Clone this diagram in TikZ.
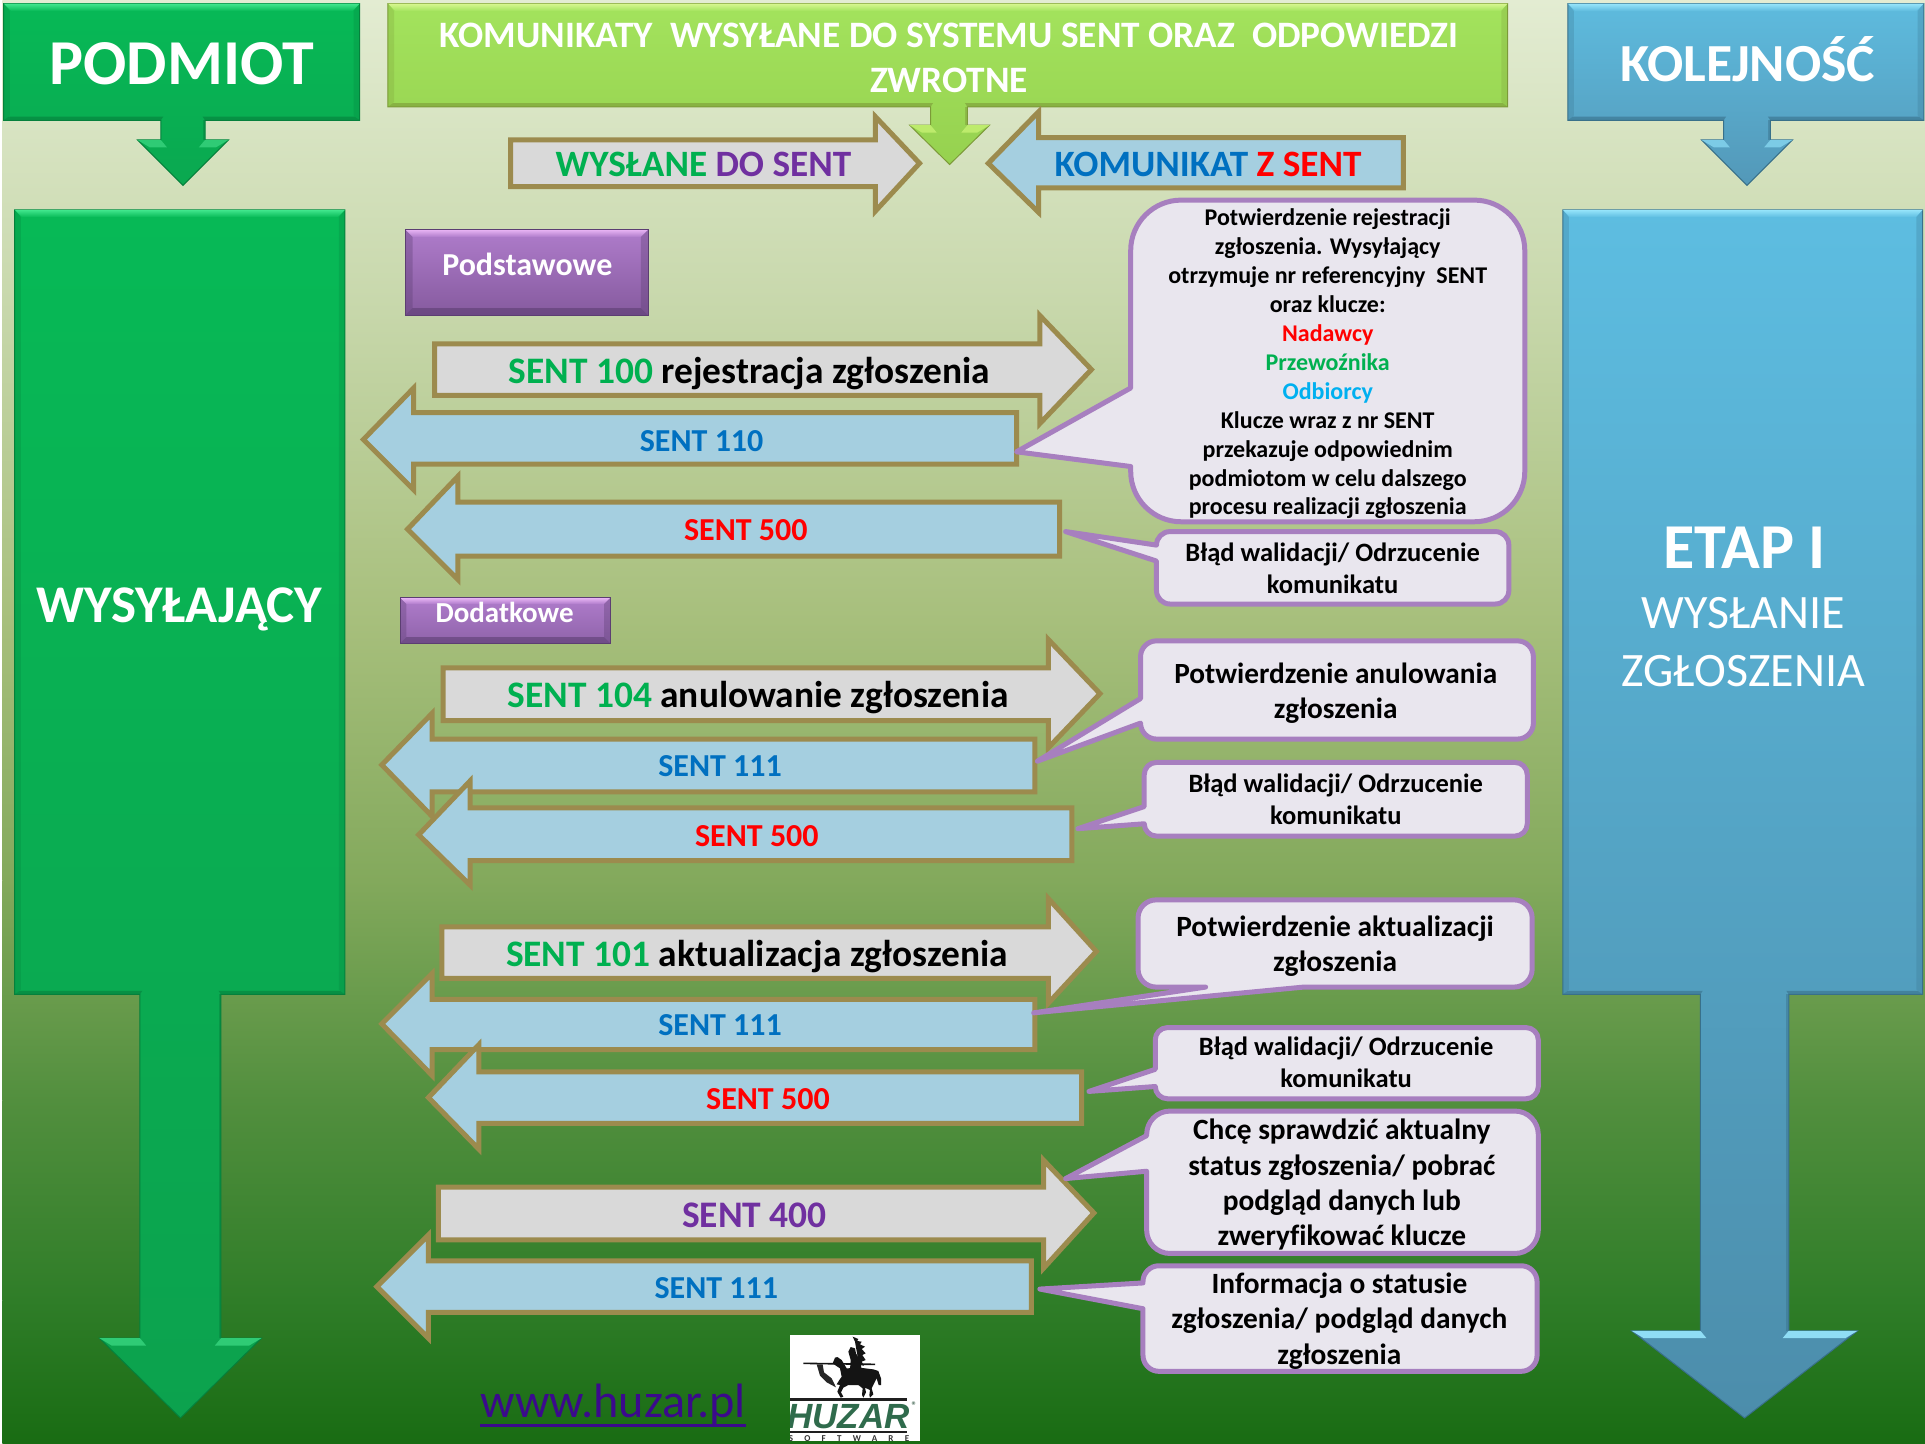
\documentclass[tikz,border=0pt]{standalone}
\usepackage{fontspec}
\setmainfont[Ligatures=CommonOff]{Carlito}
\definecolor{cGreen}{HTML}{00B050}
\definecolor{cBlue}{HTML}{0070C0}
\definecolor{cRed}{HTML}{FF0000}
\definecolor{cPurple}{HTML}{7030A0}
\definecolor{cSky}{HTML}{00B0F0}
\definecolor{cTan}{HTML}{9C8B4E}
\definecolor{cArrowGray}{HTML}{D9D9D9}
\definecolor{cArrowBlue}{HTML}{A5CFE0}
\definecolor{cCallLine}{HTML}{A77FBF}
\definecolor{cCallFill}{HTML}{E9E6EE}
\definecolor{cUrl}{HTML}{3B0A8C}
\definecolor{cLogo}{HTML}{2F6B4C}
\newcommand\fsz[2]{\fontsize{#1}{#2}\selectfont}
\tikzset{
  grayarrow/.style={draw=cTan,fill=cArrowGray,line width=5pt,miter limit=10},
  bluearrow/.style={draw=cTan,fill=cArrowBlue,line width=5pt,miter limit=10},
  callout/.style={draw=cCallLine,fill=cCallFill,line width=5pt,line join=round},
  lbl/.style 2 args={inner sep=0pt,align=center,font=\bfseries\fsz{#1}{#2}},
  plainlbl/.style 2 args={inner sep=0pt,align=center,font=\fsz{#1}{#2}},
}
\newcommand\rarrow[8]{\draw[grayarrow] (#1,#4)--(#2,#4)--(#2,#6)--(#3,#8)--(#2,#7)--(#2,#5)--(#1,#5)--cycle;}
\newcommand\larrow[8]{\draw[bluearrow] (#3,#4)--(#2,#4)--(#2,#6)--(#1,#8)--(#2,#7)--(#2,#5)--(#3,#5)--cycle;}
% rounded box outline pieces: from lower-left going round to upper-left
\newcommand\boxround[5]{%
  --(#1,{#4-#5}) .. controls (#1,{#4-.45*#5}) and ({#1+.45*#5},#4) .. ({#1+#5},#4)
  --({#3-#5},#4) .. controls ({#3-.45*#5},#4) and (#3,{#4-.45*#5}) .. (#3,{#4-#5})
  --(#3,{#2+#5}) .. controls (#3,{#2+.45*#5}) and ({#3-.45*#5},#2) .. ({#3-#5},#2)
  --({#1+#5},#2) .. controls ({#1+.45*#5},#2) and (#1,{#2+.45*#5}) .. (#1,{#2+#5})}
% callout with its pointer on the left side: x0 y0 x1 y1 r ya yb tx ty
\newcommand\calloutL[9]{\draw[callout] (#1,#7) \boxround{#1}{#2}{#3}{#4}{#5} --(#1,#6)--(#8,#9)--cycle;}
% plain bevelled rectangle: x0 y0 x1 y1 + colours bA bB bL bD
\newcommand\bevR[5]{%
  \shade[top color=bA,bottom color=bB] (#1,#2) rectangle (#3,#4);
  \shade[top color=bL,bottom color=bA] (#1,#2)--(#3,#2)--({#3-#5},{#2+#5})--({#1+#5},{#2+#5})--cycle;
  \fill[bD,opacity=.35] (#1,#2)--({#1+#5},{#2+#5})--({#1+#5},{#4-#5})--(#1,#4)--cycle;
  \fill[bD,opacity=.35] (#3,#2)--({#3-#5},{#2+#5})--({#3-#5},{#4-#5})--(#3,#4)--cycle;
  \fill[bD,opacity=.6] (#1,#4)--(#3,#4)--({#3-#5},{#4-#5})--({#1+#5},{#4-#5})--cycle;
  \draw[bD,line width=1pt] (#1,#2) rectangle (#3,#4);
}
% T shape: x0 y0 x1 y1 sl sr hl hr hy ; tip y in \tipy
\newcommand\bevT[9]{%
  \def\tipx{({(#7+#8)/2},\tipy)}
  \shade[top color=bA,bottom color=bB,draw=bD,line width=1pt]
    (#1,#2)--(#3,#2)--(#3,#4)--(#6,#4)--(#6,#9)--(#8,#9)--\tipx--(#7,#9)--(#5,#9)--(#5,#4)--(#1,#4)--cycle;
  \shade[top color=bL,bottom color=bA] (#1,#2)--(#3,#2)--({#3-6},{#2+6})--({#1+6},{#2+6})--cycle;
  \fill[bD,opacity=.25] (#1,#2)--({#1+5},{#2+6})--({#1+5},{#4-4})--(#1,#4)--cycle;
  \fill[bD,opacity=.25] (#3,#2)--({#3-5},{#2+6})--({#3-5},{#4-4})--(#3,#4)--cycle;
  \fill[bD,opacity=.6] (#1,#4)--(#5,#4)--({#5+2},{#4-3})--({#1+4},{#4-3})--cycle;
  \fill[bD,opacity=.6] (#3,#4)--(#6,#4)--({#6-2},{#4-3})--({#3-4},{#4-3})--cycle;
  \fill[bD,opacity=.45] (#6,#4)--(#6,#9)--({#6-2},#9)--({#6-2},#4)--cycle;
  \fill[bW] (#7,#9)--(#5,#9)--({#5+5},{#9+6})--({#7+10},{#9+6})--cycle;
  \fill[bW] (#8,#9)--(#6,#9)--({#6-5},{#9+6})--({#8-10},{#9+6})--cycle;
}
\begin{document}
\begin{tikzpicture}[x=1.22768pt,y=-1.22768pt]
\useasboundingbox (0,0) rectangle (1568,1175.4);
% background
\fill[white] (0,0) rectangle (1568,1175.4);
\definecolor{g0}{HTML}{E3ECD2}\definecolor{g1}{HTML}{C8D8AC}\definecolor{g2}{HTML}{A7BF7C}
\definecolor{g3}{HTML}{83A95C}\definecolor{g4}{HTML}{528F3E}\definecolor{g5}{HTML}{2F7D28}\definecolor{g6}{HTML}{196C13}
\shade[top color=g5,bottom color=g6] (2,1059) rectangle (1568,1175.4);
\shade[top color=g4,bottom color=g5] (2,896) rectangle (1568,1059.5);
\shade[top color=g3,bottom color=g4] (2,717) rectangle (1568,896.5);
\shade[top color=g2,bottom color=g3] (2,505) rectangle (1568,717.5);
\shade[top color=g1,bottom color=g2] (2,244) rectangle (1568,505.5);
\shade[top color=g0,bottom color=g1] (2,0) rectangle (1568,244.5);

% green column
\colorlet{bA}{white}\colorlet{bB}{white}\colorlet{bL}{white}\colorlet{bD}{black}\colorlet{bW}{white}
\definecolor{bA}{HTML}{07B956}\definecolor{bB}{HTML}{0AA850}\definecolor{bL}{HTML}{40E68C}\definecolor{bD}{HTML}{05803C}\definecolor{bW}{HTML}{2FCB75}
\def\tipy{151}\bevT{3}{3}{293}{98}{131}{167}{112}{186}{114}
\definecolor{bA}{HTML}{07B956}\definecolor{bB}{HTML}{0CA24E}
\def\tipy{1155}\bevT{12}{171}{281}{810}{114}{180}{81}{213}{1090}
% lime box
\definecolor{bA}{HTML}{A3E35D}\definecolor{bB}{HTML}{96D14F}\definecolor{bL}{HTML}{D6F78E}\definecolor{bD}{HTML}{7C9A38}\definecolor{bW}{HTML}{BDEB6C}
\def\tipy{134}\bevT{316}{3}{1228}{87}{758}{788}{741}{806}{102}
% blue column
\definecolor{bA}{HTML}{5EBBDE}\definecolor{bB}{HTML}{5398B8}\definecolor{bL}{HTML}{95E4FA}\definecolor{bD}{HTML}{38708A}\definecolor{bW}{HTML}{7CCBE6}
\def\tipy{151}\bevT{1277}{3}{1567}{98}{1404}{1442}{1386}{1460}{114}
\definecolor{bA}{HTML}{5DBDE1}\definecolor{bB}{HTML}{4C8DAB}\definecolor{bW}{HTML}{8FDDF5}
\def\tipy{1155}\bevT{1273}{171}{1566}{810}{1385}{1457}{1329}{1513}{1084}
% purple boxes
\definecolor{bA}{HTML}{AF7CCB}\definecolor{bB}{HTML}{855A9E}\definecolor{bL}{HTML}{E8B4F4}\definecolor{bD}{HTML}{5C3E72}
\bevR{330}{187}{528}{257}{6}
\definecolor{bB}{HTML}{8F63AA}
\bevR{326}{487}{497}{524}{5}

% header arrows
\rarrow{416}{713}{749}{114}{152}{95}{172}{133}
\larrow{805}{846}{1143}{112}{153}{91}{173}{133}
% message arrows
\rarrow{354}{847}{889}{280}{322}{257}{345}{301}
\larrow{296}{337}{828}{336}{378}{316}{399}{358}
\larrow{332}{373}{863}{409}{453}{388}{472}{431}
\rarrow{361}{854}{896}{544}{587}{521}{609}{565}
\larrow{311}{352}{843}{602}{645}{581}{665}{623}
\larrow{341}{383}{873}{658}{701}{636}{721}{680}
\rarrow{360}{854}{893}{755}{797}{732}{817}{775}
\larrow{311}{352}{843}{814}{855}{793}{876}{834}
\larrow{349}{390}{881}{873}{915}{851}{936}{894}
\rarrow{357}{850}{891}{967}{1010}{945}{1033}{988}
\larrow{307}{349}{840}{1027}{1069}{1006}{1090}{1048}

% callouts
\calloutL{921}{163}{1242}{425}{41}{316}{380}{828}{368}
\calloutL{942}{433}{1229}{492}{11}{444}{457}{868}{433}
\calloutL{929}{522}{1249}{602}{13}{569}{589}{845}{620}
\calloutL{932}{621}{1244}{681}{10}{657}{671}{878}{675}
\draw[callout] (982,804)--(941.6,804) .. controls (933.6,804) and (927,797.4) .. (927,789.4)
  --(927,747.6) .. controls (927,739.6) and (933.6,733) .. (941.6,733)
  --(1233.4,733) .. controls (1241.4,733) and (1248,739.6) .. (1248,747.6)
  --(1248,789.4) .. controls (1248,797.4) and (1241.4,804) .. (1233.4,804)
  --(1062,804)--(842,825)--cycle;
\calloutL{941}{837}{1253}{895}{10}{871}{885}{887}{889}
\calloutL{934}{905}{1253}{1021}{19}{925}{954}{868}{960}
\calloutL{931}{1031}{1252}{1117}{13}{1045}{1066}{847}{1050}

% column and header labels
\node[lbl={64}{70},white] (podmiot) at (148,52) {PODMIOT};
\node[lbl={53}{58},white] (wysylajacy) at (146,496) {WYSYŁAJĄCY};
\node[lbl={53.6}{60},white] (kolejnosc) at (1423.5,48) {KOLEJNOŚĆ};
\node[lbl={37.3}{44.5},white] (title) at (773,47) {KOMUNIKATY\ \ WYSYŁANE DO SYSTEMU SENT ORAZ\ \ ODPOWIEDZI\\ZWROTNE};
\node[lbl={64}{70},white] (etap) at (1421,446) {ETAP I};
\node[plainlbl={48}{58},white] (wyslanie) at (1420,523) {WYSŁANIE\\ZGŁOSZENIA};
\node[lbl={32}{36},white] (podst) at (429.5,215) {Podstawowe};
\node[lbl={29}{32},white] (dodat) at (411,499) {Dodatkowe};
\node[lbl={37.2}{42}] (wyslane) at (573,134) {\textcolor{cGreen}{WYSŁANE} \textcolor{cPurple}{DO SENT}};
\node[lbl={37.2}{42}] (komunikat) at (984,134) {\textcolor{cBlue}{KOMUNIKAT} \textcolor{cRed}{Z SENT}};
% arrow labels
\node[lbl={37.4}{42}] (m100) at (610.5,304) {\textcolor{cGreen}{SENT 100} rejestracja zgłoszenia};
\node[lbl={32}{36},cBlue] (m110) at (571.5,359) {SENT 110};
\node[lbl={32}{36},cRed] (m500a) at (607.5,432) {SENT 500};
\node[lbl={37.4}{42}] (m104) at (617.5,568.5) {\textcolor{cGreen}{SENT 104} anulowanie zgłoszenia};
\node[lbl={32}{36},cBlue] (m111a) at (586.5,624) {SENT 111};
\node[lbl={32}{36},cRed] (m500b) at (616.5,681) {SENT 500};
\node[lbl={37.4}{42}] (m101) at (616.5,779.5) {\textcolor{cGreen}{SENT 101} aktualizacja zgłoszenia};
\node[lbl={32}{36},cBlue] (m111b) at (586.5,835) {SENT 111};
\node[lbl={32}{36},cRed] (m500c) at (625.5,895) {SENT 500};
\node[lbl={37.5}{42},cPurple] (m400) at (614.5,990) {SENT 400};
\node[lbl={32}{36},cBlue] (m111c) at (583.5,1049) {SENT 111};
% callout labels
\node[lbl={24}{28.9}] (c1) at (1081.5,296.5) {Potwierdzenie rejestracji\\zgłoszenia. Wysyłający\\otrzymuje nr referencyjny\ \ SENT\\oraz klucze:\\\textcolor{cRed}{Nadawcy}\\\textcolor{cGreen}{Przewoźnika}\\\textcolor{cSky}{Odbiorcy}\\Klucze wraz z nr SENT\\przekazuje odpowiednim\\podmiotom w celu dalszego\\procesu realizacji zgłoszenia};
\node[lbl={26.5}{32}] (c2) at (1085.5,463) {Błąd walidacji/ Odrzucenie\\komunikatu};
\node[lbl={29.3}{35}] (c3) at (1088,565) {Potwierdzenie anulowania\\zgłoszenia};
\node[lbl={26.5}{32}] (c4) at (1088,651) {Błąd walidacji/ Odrzucenie\\komunikatu};
\node[lbl={29.4}{35}] (c5) at (1087.5,771) {Potwierdzenie aktualizacji\\zgłoszenia};
\node[lbl={26.5}{32}] (c6) at (1096.5,865) {Błąd walidacji/ Odrzucenie\\komunikatu};
\node[lbl={29.4}{35.3}] (c7) at (1093,965) {Chcę sprawdzić aktualny\\status zgłoszenia/ pobrać\\podgląd danych lub\\zweryfikować klucze};
\node[lbl={29.4}{35.3}] (c8) at (1091,1076) {Informacja o statusie\\zgłoszenia/ podgląd danych\\zgłoszenia};
% url
\node[inner sep=0pt,cUrl,font=\fsz{48.2}{52}] (url) at (499.5,1144) {www.huzar.pl};
\draw[cUrl,line width=3pt] (url.south west)--(url.south east);
% logo
\begin{scope}[shift={(780pt,-1335pt)},x=0.33333pt,y=-0.33333pt]
\fill[white] (30,0) rectangle (420,318);
\fill[black!92] (158,85)--(165,68)--(172,66)--(185,75)--(200,100)--(240,98)--(280,103)--(295,108)--(303,130)--(303,150)--(296,150)--(290,130)--(285,140)--(275,160)--(280,178)--(270,188)--(268,180)--(270,165)--(255,158)--(258,172)--(250,188)--(246,180)--(248,160)--(235,150)--(205,150)--(190,158)--(183,172)--(190,185)--(182,188)--(172,170)--(180,150)--(170,148)--(178,135)--(185,125)--(180,100)--(168,92)--cycle;
\fill[black!92] (205,50)--(212,36)--(225,40)--(228,55)--(240,75)--(245,105)--(210,105)--(212,75)--cycle;
\fill[black!92] (218,5)--(235,12)--(232,18)--(245,20)--(240,28)--(255,35)--(245,42)--(257,55)--(247,60)--(257,75)--(245,80)--(252,92)--(238,90)--(232,60)--(228,38)--(225,20)--cycle;
\draw[black!92,line width=1.6pt] (70,85)--(285,88);
\fill[black!85] (110,88)--(128,88)--(132,112)--(155,130)--(168,157)--(140,142)--(120,122)--cycle;
\fill[black!88] (30,190) rectangle (382,198);
\fill[black!88] (30,287) rectangle (382,294);
\begin{scope}
\clip (30,200) rectangle (420,318);
\node[cLogo,inner sep=0pt,font=\fontspec{Liberation Sans}\bfseries\itshape\fsz{35}{38}] (huzar) at (205,245) {HUZAR};
\node[black!80,inner sep=0pt,font=\bfseries\fsz{9}{10}] (soft) at (207,310) {\addfontfeature{LetterSpace=125}SOFTWARE};
\node[cLogo!70!black,inner sep=0pt,font=\fsz{11}{12}] (regm) at (403,211) {®};
\end{scope}
\end{scope}
\end{tikzpicture}
\end{document}
